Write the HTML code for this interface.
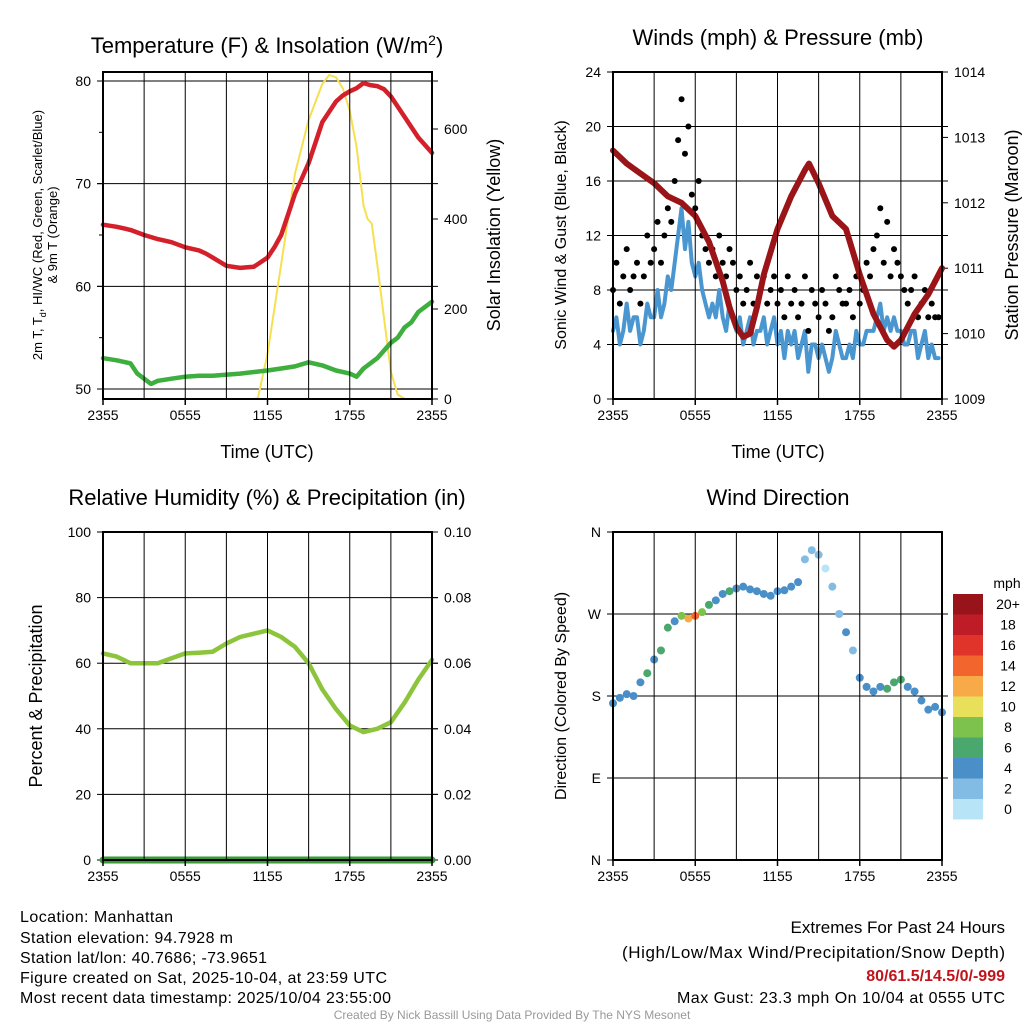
<!DOCTYPE html>
<html><head><meta charset="utf-8">
<style>
html,body{margin:0;padding:0;background:#fff;}
svg{display:block;font-family:"Liberation Sans",Arial,sans-serif;}
</style></head>
<body>
<svg id="chart" width="1024" height="1024" viewBox="0 0 1024 1024">
<g id="p1"></g>
<g id="p2"></g>
<g id="p3"></g>
<g id="p4"></g>
<g id="footer">
<text x="20" y="922" font-size="16" textLength="153">Location: Manhattan</text>
<text x="20" y="943" font-size="16" textLength="213">Station elevation: 94.7928 m</text>
<text x="20" y="963" font-size="16" textLength="247">Station lat/lon: 40.7686; -73.9651</text>
<text x="20" y="983" font-size="16" textLength="367">Figure created on Sat, 2025-10-04, at 23:59 UTC</text>
<text x="20" y="1003" font-size="16" textLength="371">Most recent data timestamp: 2025/10/04 23:55:00</text>
<text x="1005" y="933" font-size="17" text-anchor="end">Extremes For Past 24 Hours</text>
<text x="1005" y="958" font-size="17" text-anchor="end" textLength="383">(High/Low/Max Wind/Precipitation/Snow Depth)</text>
<text x="1005" y="981" font-size="16" font-weight="bold" fill="#c0141c" text-anchor="end">80/61.5/14.5/0/-999</text>
<text x="1005" y="1003" font-size="16" text-anchor="end" textLength="328">Max Gust: 23.3 mph On 10/04 at 0555 UTC</text>
<text x="512" y="1019" font-size="12" fill="#999" text-anchor="middle">Created By Nick Bassill Using Data Provided By The NYS Mesonet</text>
</g>
</svg>
<script>
// ---- data ----
const timeLabels = ["2355","0555","1155","1755","2355"];
const tempTimes = [0,1,2,3,4,5,6,7,7.5,8,9,10,11,12,12.5,13,13.5,14,14.5,15,15.5,16,16.5,17,17.5,18,18.5,19,19.5,20,20.5,21,22,23,24];
const tempVals = [66,65.8,65.5,65,64.6,64.3,63.8,63.5,63.2,62.8,62,61.8,61.9,62.8,63.8,65,67,69,70.5,72,74,76,77,78,78.6,79,79.3,79.8,79.6,79.5,79.2,78.5,76.5,74.5,73];
const dewTimes = [0,1,2,2.5,3,3.5,4,5,6,7,8,10,12,13,14,15,16,17,18,18.5,19,20,21,21.5,22,22.5,23,24];
const dewVals = [53,52.8,52.5,51.5,51,50.5,50.8,51,51.2,51.3,51.3,51.5,51.8,52,52.2,52.6,52.3,51.8,51.5,51.2,52,53,54.5,55,56,56.5,57.5,58.5];
const solarTimes = [0,11,11.3,12,13,14,15,16,16.5,17,17.5,18,18.5,19,19.3,19.6,20,20.5,21,21.5,22,24];
const solarVals = [0,0,2,100,300,500,620,700,720,715,690,640,560,430,400,390,300,180,60,10,0,0];
const tempTicks = [50,60,70,80];
const solarTicks = [0,200,400,600];

const windTimes = [];
const windVals = [5,6,4,5,7,5,6,6,4,5,7,6, 6,8,6,7,9,8, 10,12,14,11,13,10, 9,10,8,7, 6,7,6,8,6,5,7,6, 5,6,4,5,6,4,5,5,6,4,5,6, 4,5,3,5,4,5,3,4,5,2,4,4,3,4,3,2,3,5,4,3, 3,4,3,5,4,4,5,5, 5,6,7,5,6,5,6,5, 5,4,4,5,5,3,4,5,3,4,3,3];
const gustVals = [8,10,7,9,11,8,9,10,7,9,12,10, 11,13,10,12,14,13, 16,19,22,18,20,15, 14,16,12,11, 10,11,9,12,10,9,11,10, 8,9,7,8,10,7,9,8,9,7,8,9, 7,8,6,9,7,8,6,7,9,5,8,7,6,8,7,5,6,9,8,7, 7,8,6,9,7,8,10,9, 11,12,14,10,13,9,11,10, 9,8,7,8,9,6,7,8,6,7,6,6];
const presTimes = [0,1,2,3,4,5,6,7,8,8.5,9,9.5,10,10.5,11,12,13,14,14.3,15,16,17,18,19,20,20.5,21,22,23,24];
const presVals = [1012.8,1012.6,1012.45,1012.3,1012.1,1012.0,1011.8,1011.4,1010.8,1010.4,1010.1,1009.95,1010.0,1010.4,1010.9,1011.6,1012.1,1012.5,1012.6,1012.3,1011.8,1011.6,1010.9,1010.3,1009.9,1009.8,1009.9,1010.3,1010.6,1011.0];
const windTicks = [0,4,8,12,16,20,24];
const presTicks = [1009,1010,1011,1012,1013,1014];

const rhTimes = [0,1,2,3,4,5,6,7,8,9,10,11,12,13,14,15,16,17,18,19,20,21,22,23,24];
const rhVals = [63,62,60,60,60,61.5,63,63.2,63.5,66,68,69,70,68,65,60,52,46,41,39,40,42,48,55,61];
const rhTicks = [0,20,40,60,80,100];
const precipTicks = ["0.00","0.02","0.04","0.06","0.08","0.10"];
const precipVals = [0,0];

const dirTimes = [0,0.5,1,1.5,2,2.5,3,3.5,4,4.5,5,5.5,6,6.5,7,7.5,8,8.5,9,9.5,10,10.5,11,11.5,12,12.5,13,13.5,14,14.5,15,15.5,16,16.5,17,17.5,18,18.5,19,19.5,20,20.5,21,21.5,22,22.5,23,23.5,24];
const dirVals = [172,178,182,180,195,205,220,230,255,262,268,265,268,272,280,285,292,295,298,300,297,295,292,290,295,296,300,305,330,340,335,320,300,270,250,230,200,190,185,190,188,195,198,190,185,175,165,168,162];
const dirSpeeds = [4,4,4,5,4,6,5,7,6,5,8,12,14,8,6,5,5,6,5,5,4,5,4,5,4,5,4,4,2,3,2,1,3,2,4,3,4,4,5,4,6,7,6,5,4,4,4,4,4];
const dirLabels = ["N","E","S","W","N"];
const cbLabels = ["20+","18","16","14","12","10","8","6","4","2","0"];
const cbColors = ["#98141a","#be1c26","#e0342b","#f2652d","#f8a948","#e8e05a","#7dc24c","#4aa86f","#4a8fc8","#82bce4","#b8e4f8"];
for (let i=0;i<gustVals.length;i++) windTimes.push(i*0.25);

// ---- helpers ----
const NS="http://www.w3.org/2000/svg";
function mk(parent,tag,attrs){const e=document.createElementNS(NS,tag);for(const k in attrs)e.setAttribute(k,attrs[k]);parent.appendChild(e);return e;}
function txt(parent,x,y,s,size,anchor,extra){const e=mk(parent,"text",Object.assign({x:x,y:y,"font-size":size,"text-anchor":anchor||"middle"},extra||{}));e.textContent=s;return e;}
function xScale(L,R){return t=>L+(R-L)*t/24;}
function yScale(T,B,lo,hi){return v=>B-(B-T)*(v-lo)/(hi-lo);}
function frame(g,L,T,R,B,name){
  for(let h=3;h<24;h+=3){const x=xScale(L,R)(h);const l=mk(g,"line",{x1:x,y1:T,x2:x,y2:B,stroke:"#000","stroke-width":1});
    
    }
  const f=mk(g,"rect",{x:L,y:T,width:R-L,height:B-T,fill:"none",stroke:"#000","stroke-width":2});
  
  
  timeLabels.forEach((s,i)=>{const x=L+(R-L)*i/4;mk(g,"line",{x1:x,y1:B,x2:x,y2:B+6,stroke:"#000","stroke-width":1.5});
    const t=txt(g,x,B+21,s,14);
    
    });
}
function hgrid(g,L,R,y){const l=mk(g,"line",{x1:L,y1:y,x2:R+6,y2:y,stroke:"#000","stroke-width":1});
  
  }
function polyline(g,ts,vs,xs,ys,color,w,name){
  const pts=ts.map((t,i)=>xs(t).toFixed(1)+","+ys(vs[i]).toFixed(1)).join(" ");
  const p=mk(g,"polyline",{points:pts,fill:"none",stroke:color,"stroke-width":w,"stroke-linejoin":"round","stroke-linecap":"round"});
  
  
  return p;}

// ---- panel 1 ----
(function(){
  const g=document.getElementById("p1");const L=103,R=432,T=72,B=399;
  const xs=xScale(L,R);
  const ty2=v=>389-(389-81)*(v-50)/30;
  tempTicks.forEach(v=>{const y=ty2(v);hgrid(g,L-6,R,y);mk(g,"line",{x1:L-6,y1:y,x2:L,y2:y,stroke:"#000"});
    const t=txt(g,L-12,y+5,String(v),14,"end");
    
    });
  [55,65,75].forEach(v=>mk(g,"line",{x1:L-4,y1:ty2(v),x2:L,y2:ty2(v),stroke:"#000"}));
  const sy2=v=>399-v*0.45;
  solarTicks.forEach(v=>{const y=sy2(v);mk(g,"line",{x1:R,y1:y,x2:R+6,y2:y,stroke:"#000"});
    const t=txt(g,R+12,y+5,String(v),14,"start");
    
    });
  polyline(g,solarTimes,solarVals,xs,sy2,"#f5e050",2,"solar-insolation-line");
  polyline(g,tempTimes,tempVals,xs,ty2,"#d4202a",4.5,"temperature-line");
  polyline(g,dewTimes,dewVals,xs,ty2,"#3eae3e",4.5,"dewpoint-line");
  frame(g,L,T,R,B,"temperature");
  const ti=txt(g,267,53,"",22);ti.innerHTML='Temperature (F) &amp; Insolation (W/m<tspan dy="-8" font-size="14">2</tspan><tspan dy="8">)</tspan>';
  
  
  const xl=txt(g,267,458,"Time (UTC)",18);
  
  
  const yl=mk(g,"text",{transform:"translate(42,235) rotate(-90)","font-size":13,"text-anchor":"middle"});
  yl.innerHTML='2m T, T<tspan dy="4" font-size="9">d</tspan><tspan dy="-4">, HI/WC (Red, Green, Scarlet/Blue)</tspan>';
  
  
  const yl2=txt(g,0,0,"& 9m T (Orange)",13,"middle",{transform:"translate(57,235) rotate(-90)"});
  
  
  const yr=txt(g,0,0,"Solar Insolation (Yellow)",18,"middle",{transform:"translate(500,235) rotate(-90)"});
  
  
})();

// ---- panel 2 ----
(function(){
  const g=document.getElementById("p2");const L=613,R=942,T=72,B=399;
  const xs=xScale(L,R), wy=yScale(T,B,0,24), py=yScale(T,B,1009,1014);
  windTicks.forEach(v=>{const y=wy(v);if(v>0&&v<24)hgrid(g,L,R,y);mk(g,"line",{x1:L-6,y1:y,x2:L,y2:y,stroke:"#000"});
    const t=txt(g,L-12,y+5,String(v),14,"end");
    
    });
  presTicks.forEach(v=>{const y=py(v);mk(g,"line",{x1:R,y1:y,x2:R+6,y2:y,stroke:"#000"});
    const t=txt(g,R+12,y+5,String(v),14,"start");
    
    });
  polyline(g,windTimes,windVals,xs,wy,"#4a96d0",4,"sonic-wind-line");
  gustVals.forEach((v,i)=>{const c=mk(g,"circle",{cx:xs(windTimes[i]),cy:wy(v),r:3,fill:"#000"});
    
    });
  polyline(g,presTimes,presVals,xs,py,"#9a1418",6,"pressure-line");
  frame(g,L,T,R,B,"winds");
  const ti=txt(g,778,45,"Winds (mph) & Pressure (mb)",22);
  
  
  const xl=txt(g,778,458,"Time (UTC)",18);
  
  
  const yl=txt(g,0,0,"Sonic Wind & Gust (Blue, Black)",16,"middle",{transform:"translate(566,235) rotate(-90)"});
  
  
  const yr=txt(g,0,0,"Station Pressure (Maroon)",18,"middle",{transform:"translate(1018,235) rotate(-90)"});
  
  
})();

// ---- panel 3 ----
(function(){
  const g=document.getElementById("p3");const L=103,R=432,T=532,B=860;
  const xs=xScale(L,R), ry=yScale(T,B,0,100), pry=yScale(T,B,0,0.1);
  rhTicks.forEach((v,i)=>{const y=ry(v);if(v>0&&v<100)hgrid(g,L,R,y);mk(g,"line",{x1:L-6,y1:y,x2:L,y2:y,stroke:"#000"});
    const t=txt(g,L-12,y+5,String(v),14,"end");
    
    
    mk(g,"line",{x1:R,y1:y,x2:R+6,y2:y,stroke:"#000"});
    const t2=txt(g,R+12,y+5,precipTicks[i],14,"start");
    
    });
  polyline(g,rhTimes,rhVals,xs,ry,"#8cc43c",4.5,"humidity-line");
  polyline(g,[0,24],precipVals,xs,pry,"#3a9a3a",7,"precipitation-line");
  frame(g,L,T,R,B,"humidity");
  const ti=txt(g,267,505,"Relative Humidity (%) & Precipitation (in)",22);
  
  
  const yl=txt(g,0,0,"Percent & Precipitation",18,"middle",{transform:"translate(42,696) rotate(-90)"});
  
  
})();

// ---- panel 4 ----
(function(){
  const g=document.getElementById("p4");const L=613,R=942,T=532,B=860;
  const xs=xScale(L,R), dy=yScale(T,B,0,360);
  dirLabels.forEach((s,i)=>{const y=dy(i*90);if(i>0&&i<4)hgrid(g,L,R,y);mk(g,"line",{x1:L-6,y1:y,x2:L,y2:y,stroke:"#000"});
    const t=txt(g,L-12,y+5,s,14,"end");
    
    });
  const colorFor=s=>cbColors[10-Math.min(10,Math.floor(s/2))];
  dirVals.forEach((v,i)=>{const c=mk(g,"circle",{cx:xs(dirTimes[i]),cy:dy(v),r:4,fill:colorFor(dirSpeeds[i])});
    
    });
  frame(g,L,T,R,B,"direction");
  const ti=txt(g,778,505,"Wind Direction",22);
  
  
  const yl=txt(g,0,0,"Direction (Colored By Speed)",16,"middle",{transform:"translate(566,696) rotate(-90)"});
  
  
  const u=txt(g,1007,588,"mph",14);
  
  
  cbLabels.forEach((s,i)=>{const y=594+i*20.5;
    const r=mk(g,"rect",{x:953,y:y,width:30,height:20.5,fill:cbColors[i]});
    
    
    const t=txt(g,1008,y+15,s,14);
    
    });
})();
</script>
</body></html>
